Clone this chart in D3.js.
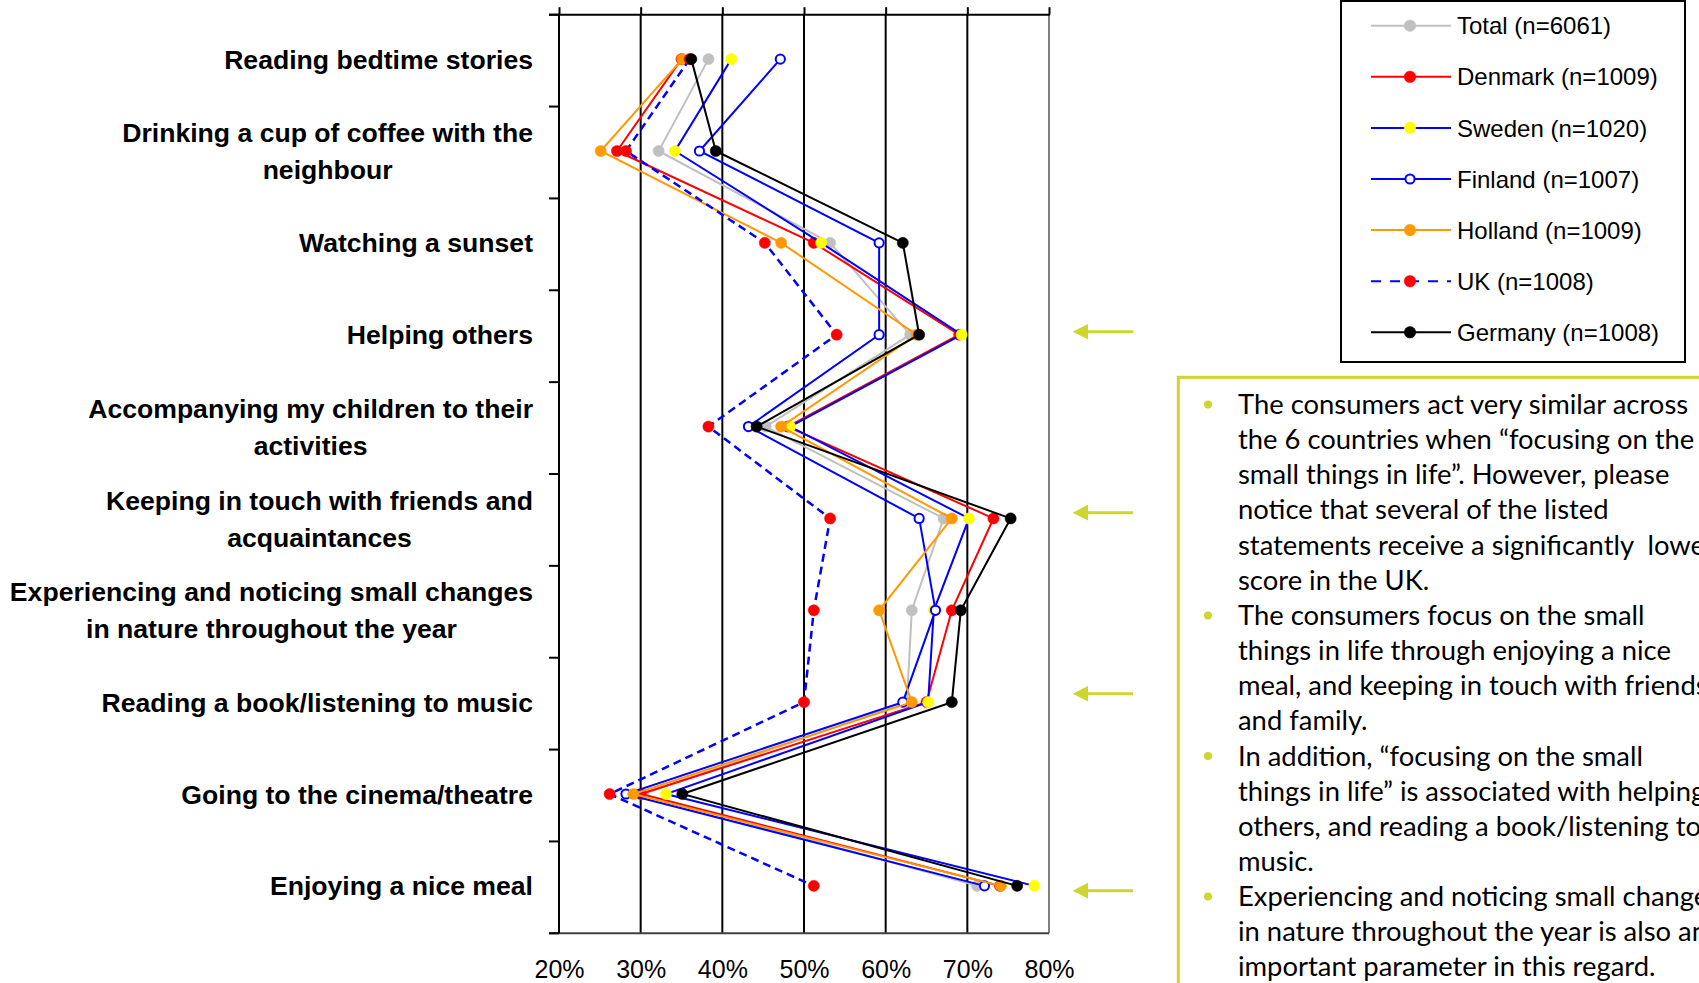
<!DOCTYPE html>
<html>
<head>
<meta charset="utf-8">
<script src="https://cdn.jsdelivr.net/npm/d3@7/dist/d3.min.js"></script>
<style>
  html, body { margin: 0; padding: 0; background: #fff; overflow: hidden; }
  svg { display: block; }
</style>
</head>
<body>
<svg id="chart" width="1699" height="983"></svg>
<script>
// Activities, top to bottom ("\n" marks a line break in the label)
const categories = [
  "Reading bedtime stories",
  "Drinking a cup of coffee with the\nneighbour",
  "Watching a sunset",
  "Helping others",
  "Accompanying my children to their\nactivities",
  "Keeping in touch with friends and\nacquaintances",
  "Experiencing and noticing small changes\nin nature throughout the year",
  "Reading a book/listening to music",
  "Going to the cinema/theatre",
  "Enjoying a nice meal"
];

// Share of respondents (%) per activity
const total   = [38.3, 32.2, 53.2, 63.0, 45.3, 67.1, 63.2, 62.6, 30.3, 71.2];
const denmark = [35.0, 27.1, 51.2, 69.0, 48.0, 73.2, 68.1, 65.0, 30.0, 74.0];
const sweden  = [41.1, 34.2, 52.1, 69.3, 48.3, 70.2, 65.9, 65.2, 33.1, 78.2];
const finland = [47.1, 37.2, 59.2, 59.2, 43.2, 64.1, 66.1, 62.1, 28.2, 72.1];
const holland = [35.1, 25.1, 47.2, 63.8, 47.2, 68.1, 59.2, 63.2, 29.1, 74.1];
const uk      = [36.0, 28.2, 45.2, 54.0, 38.3, 53.2, 51.2, 50.0, 26.2, 51.2];
const germany = [36.2, 39.2, 62.1, 64.1, 44.2, 75.3, 69.2, 68.1, 35.1, 76.1];

const seriesNames = ["Total (n=6061)", "Denmark (n=1009)", "Sweden (n=1020)", "Finland (n=1007)",
                     "Holland (n=1009)", "UK (n=1008)", "Germany (n=1008)"];

const xTicks = [20, 30, 40, 50, 60, 70, 80];

// Activities highlighted with arrows (nudge: small vertical shift of the arrow, px)
const highlighted = [
  { category: "Helping others", nudge: -3 },
  { category: "Keeping in touch with friends and\nacquaintances", nudge: -5.8 },
  { category: "Reading a book/listening to music", nudge: -8.4 },
  { category: "Enjoying a nice meal", nudge: 4.8 }
];

const bullets = [
  ["The consumers act very similar across",
   "the 6 countries when \u201cfocusing on the",
   "small things in life\u201d. However, please",
   "notice that several of the listed",
   "statements receive a significantly  lower",
   "score in the UK."],
  ["The consumers focus on the small",
   "things in life through enjoying a nice",
   "meal, and keeping in touch with friends",
   "and family."],
  ["In addition, \u201cfocusing on the small",
   "things in life\u201d is associated with helping",
   "others, and reading a book/listening to",
   "music."],
  ["Experiencing and noticing small changes",
   "in nature throughout the year is also an",
   "important parameter in this regard."]
];

// Series styling
const styles = [
  { values: total,   line: "#C0C0C0", fill: "#C0C0C0", stroke: "#C0C0C0", dash: null },
  { values: denmark, line: "#FF0000", fill: "#FF0000", stroke: "#FF0000", dash: null },
  { values: sweden,  line: "#0000FF", fill: "#FFFF00", stroke: "#FFFF00", dash: null },
  { values: finland, line: "#0000FF", fill: "#FFFFFF", stroke: "#0000FF", dash: null },
  { values: holland, line: "#FF9900", fill: "#FF9900", stroke: "#FF9900", dash: null },
  { values: uk,      line: "#0000FF", fill: "#FF0000", stroke: "#FF0000", dash: "8,5" },
  { values: germany, line: "#000000", fill: "#000000", stroke: "#000000", dash: null }
];

const svg = d3.select("#chart");
const accent = "#CDD52F";

const plotLeft = 559, plotRight = 1049, plotTop = 14.7, plotBottom = 933.3;

const x = d3.scaleLinear().domain([20, 80]).range([plotLeft, plotRight]);
const y = d3.scaleBand().domain(categories).range([plotTop, plotBottom]);
const yc = c => y(c) + y.bandwidth() / 2 - 1.5;

// Vertical gridlines
svg.append("g")
  .selectAll("line")
  .data(xTicks.filter(t => t > 20 && t < 80))
  .join("line")
  .attr("x1", d => x(d)).attr("x2", d => x(d))
  .attr("y1", plotTop).attr("y2", plotBottom)
  .attr("stroke", "#000").attr("stroke-width", 2);

// Right and bottom frame
svg.append("line").attr("x1", x(80)).attr("x2", x(80)).attr("y1", plotTop).attr("y2", plotBottom)
  .attr("stroke", "#808080").attr("stroke-width", 2);
svg.append("line").attr("x1", plotLeft - 10).attr("x2", x(80)).attr("y1", plotBottom).attr("y2", plotBottom)
  .attr("stroke", "#404040").attr("stroke-width", 2);

// Top axis: tick marks only
const topAxis = svg.append("g")
  .attr("transform", `translate(0,${plotTop})`)
  .call(d3.axisTop(x).tickValues(xTicks).tickSize(7.5).tickSizeOuter(0).tickFormat(""));
topAxis.select(".domain").remove();
topAxis.selectAll(".tick line").attr("stroke", "#000").attr("stroke-width", 2);
svg.append("line").attr("x1", plotLeft - 10).attr("x2", x(80) + 1).attr("y1", plotTop).attr("y2", plotTop)
  .attr("stroke", "#000").attr("stroke-width", 2);

// Bottom tick labels
svg.append("g")
  .attr("transform", `translate(0,${plotBottom})`)
  .call(d3.axisBottom(x).tickValues(xTicks).tickSize(0).tickPadding(0).tickFormat(d => d + "%"))
  .call(g => g.select(".domain").remove())
  .call(g => g.selectAll("text")
    .attr("y", 45).attr("dy", 0)
    .attr("font-family", "Liberation Sans, Arial, sans-serif")
    .attr("font-size", 25).attr("fill", "#000"));

// Left axis line with ticks at band boundaries
svg.append("line").attr("x1", plotLeft).attr("x2", plotLeft).attr("y1", plotTop).attr("y2", plotBottom)
  .attr("stroke", "#000").attr("stroke-width", 2);
const boundaries = categories.map(c => y(c)).concat([plotBottom]);
svg.append("g").selectAll("line").data(boundaries).join("line")
  .attr("x1", plotLeft - 10).attr("x2", plotLeft)
  .attr("y1", d => d).attr("y2", d => d)
  .attr("stroke", "#000").attr("stroke-width", 2);

// Category labels: lines centred on each other, block right-aligned to the axis
const labelRight = 533, lineGap = 37;
categories.forEach(c => {
  const lines = c.split("\n");
  const g = svg.append("g");
  const texts = lines.map((ln, i) => g.append("text")
    .attr("font-family", "Liberation Sans, Arial, sans-serif")
    .attr("font-weight", "bold").attr("font-size", 26.6).attr("fill", "#000")
    .attr("text-anchor", "middle")
    .attr("y", yc(c) + (i - (lines.length - 1) / 2) * lineGap)
    .attr("dy", "0.36em")
    .text(ln));
  const w = d3.max(texts, t => t.node().getComputedTextLength());
  texts.forEach(t => t.attr("x", labelRight - w / 2));
});

// Series lines and markers
const lineGen = d3.line().x(d => x(d.v)).y(d => yc(d.c));
styles.forEach(s => {
  const pts = categories.map((c, i) => ({ c, v: s.values[i] }));
  const g = svg.append("g");
  g.append("path").datum(pts)
    .attr("d", lineGen)
    .attr("fill", "none")
    .attr("stroke", s.line)
    .attr("stroke-width", s.dash ? 2.5 : 2)
    .attr("stroke-dasharray", s.dash);
  g.selectAll("circle").data(pts).join("circle")
    .attr("cx", d => x(d.v)).attr("cy", d => yc(d.c))
    .attr("r", s.fill === "#FFFFFF" ? 4.6 : 5.6)
    .attr("fill", s.fill)
    .attr("stroke", s.stroke)
    .attr("stroke-width", s.fill === "#FFFFFF" ? 2 : 0.5);
});

// Legend
const legend = svg.append("g");
legend.append("rect").attr("x", 1341).attr("y", 1).attr("width", 344).attr("height", 361)
  .attr("fill", "#fff").attr("stroke", "#000").attr("stroke-width", 2);
styles.forEach((s, i) => {
  const ly = 25.7 + i * 51.1;
  legend.append("line").attr("x1", 1371).attr("x2", 1451).attr("y1", ly).attr("y2", ly)
    .attr("stroke", s.line).attr("stroke-width", 2).attr("stroke-dasharray", s.dash ? "10,9" : null);
  legend.append("circle").attr("cx", 1410).attr("cy", ly)
    .attr("r", s.fill === "#FFFFFF" ? 4.6 : 5.8)
    .attr("fill", s.fill).attr("stroke", s.stroke)
    .attr("stroke-width", s.fill === "#FFFFFF" ? 2 : 0.5);
  legend.append("text").attr("x", 1457).attr("y", ly).attr("dy", "0.36em")
    .attr("font-family", "Liberation Sans, Arial, sans-serif").attr("font-size", 24)
    .attr("fill", "#000").text(seriesNames[i]);
});

// Arrows pointing at highlighted activities
highlighted.forEach(h => {
  const ay = yc(h.category) + h.nudge;
  svg.append("line").attr("x1", 1086).attr("x2", 1133).attr("y1", ay).attr("y2", ay)
    .attr("stroke", accent).attr("stroke-width", 3);
  svg.append("path")
    .attr("d", `M1072.7,${ay} L1088,${ay - 7.8} L1088,${ay + 7.8} Z`)
    .attr("fill", accent);
});

// Commentary box
svg.append("rect").attr("x", 1178.3).attr("y", 377.3).attr("width", 600).attr("height", 700)
  .attr("fill", "none").attr("stroke", accent).attr("stroke-width", 3);
let lineIndex = 0;
const baseline0 = 414, lineStep = 35.15;
bullets.forEach(par => {
  svg.append("circle").attr("cx", 1208).attr("cy", baseline0 + lineIndex * lineStep - 9.5)
    .attr("r", 4).attr("fill", accent);
  par.forEach(ln => {
    svg.append("text").attr("x", 1238).attr("y", baseline0 + lineIndex * lineStep)
      .attr("font-family", "Lato, 'Open Sans', sans-serif").attr("font-size", 27.4)
      .attr("fill", "#000").attr("xml:space", "preserve").style("white-space", "pre")
      .text(ln);
    lineIndex++;
  });
});
</script>
</body>
</html>
